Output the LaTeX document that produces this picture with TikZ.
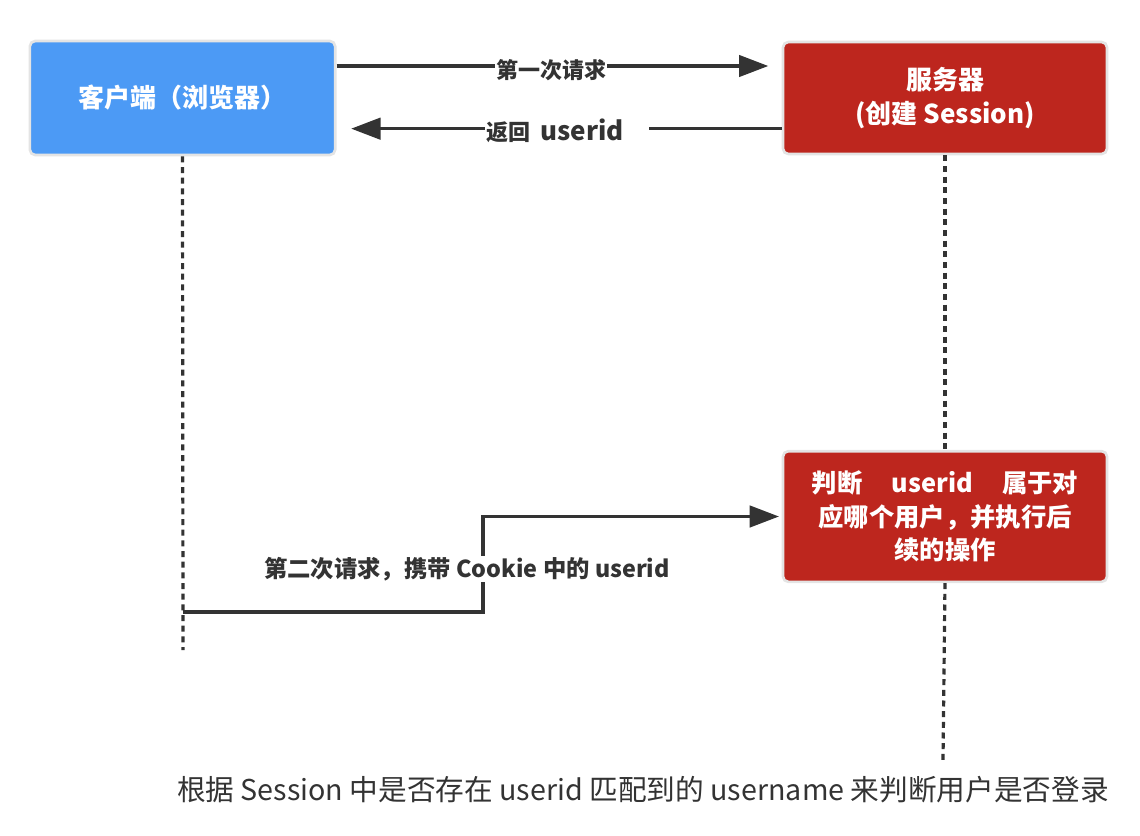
\documentclass[tikz,border=0pt]{standalone}
\usepackage{fontspec}
\setmainfont{Noto Sans CJK SC}
\usepackage{tikz}
\usetikzlibrary{arrows.meta}
\definecolor{clientblue}{HTML}{4C9AF5}
\definecolor{serverred}{HTML}{BD261E}
\definecolor{boxedge}{HTML}{E4E4E4}
\definecolor{linegray}{HTML}{333333}

\begin{document}
\begin{tikzpicture}[x=0.75pt, y=-0.75pt,
        box/.style={draw=boxedge, line width=2pt, rounded corners=4pt, text=white,
            font=\bfseries\fontsize{19.5}{25}\selectfont, align=center},
        msg/.style={draw=linegray, line width=2.6pt, -{Triangle[length=22pt,width=16pt]}},
        life/.style={draw=linegray, line width=2.4pt, dash pattern=on 4.5pt off 3.5pt},
        lbl/.style={fill=white, text=linegray, inner sep=1pt,
            font=\bfseries\fontsize{16.5}{20}\selectfont}]
            \useasboundingbox (0,0) rectangle (1140,836);

            \node[box, fill=clientblue, minimum width=229pt, minimum height=85.5pt] at (182.5, 98) (client) {客户端（浏览器）};
            \node[box, fill=serverred, minimum width=243pt, minimum height=84pt] at (945, 98) (server) {服务器\\(创建 Session)};
            \node[box, fill=serverred, minimum width=243pt, minimum height=98pt, font=\bfseries\fontsize{19}{25}\selectfont] at (945, 516.5) (judge) {判断\hspace{22pt}userid\hspace{22pt}属于对\\应哪个用户，并执行后\\续的操作};

            % lifelines
            \coordinate (cend) at (183, 650);
            \coordinate (send) at (943, 760);
            \draw [life] (client.south) -- (cend);
            \draw [life] (server.south) -- (judge.north);
            \draw [life] (judge.south) -- (send);

            % first request and answer
            \draw [msg, shorten >=10pt] ([yshift=24pt]client.east) -- ([yshift=24pt]server.west);
            \draw [msg, shorten >=11pt] ([yshift=-23pt]server.west) -- ([yshift=-23pt]client.east);
            \node[lbl] at (551, 70) (req1) {第一次请求};
            \node[lbl] at (567, 131) (ret) {返回\ \ {\fontsize{19.5}{20}\selectfont userid}\hspace*{18pt}};

            % second request
            \coordinate (c2) at (183, 612);
            \coordinate (bend) at (483, 565);
            \draw [msg, line join=miter, shorten >=2pt] (c2) -| (bend) |- (judge.west);
            \node[lbl, font=\bfseries\fontsize{17.5}{20}\selectfont] at (467, 569) (req2) {第二次请求，携带 Cookie 中的 userid};

            \node[text=linegray, font=\fontsize{21.5}{25}\selectfont] at (643, 790) (note) {根据 Session 中是否存在 userid 匹配到的 username 来判断用户是否登录};
        \end{tikzpicture}
\end{document}
